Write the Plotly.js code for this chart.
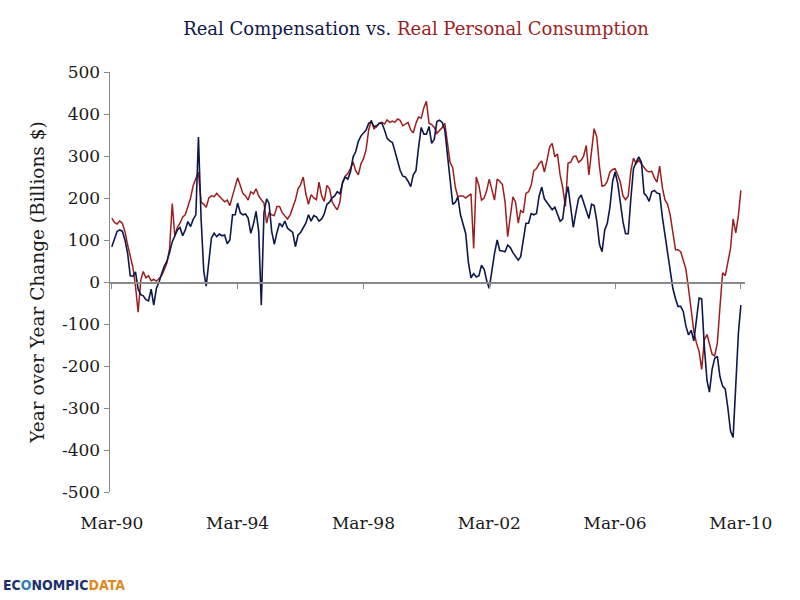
<!DOCTYPE html>
<html>
<head>
<meta charset="utf-8">
<script src="https://cdn.plot.ly/plotly-3.0.1.min.js"></script>
<style>
  html, body { margin: 0; padding: 0; background: #fff; }
  #chart { width: 800px; height: 600px; }
</style>
</head>
<body>
<div id="chart"></div>
<script>
// Year-over-year change, billions of dollars, monthly Mar-1990 .. Mar-2010
const START_YEAR = 1990;
const START_MONTH = 3;

const compensation = [
  84, 105, 120, 124, 121, 100, 68, 15, 14, 24, -17, -30, -33, -42, -45, -17, -55, -15, 0, 20,
  38, 50, 70, 96, 108, 124, 130, 110, 124, 144, 132, 149, 160,
  345, 150, 25, -10, 50, 105, 116, 108, 114, 110, 112, 91, 100, 160, 160, 188, 165, 160, 162, 152,
  116, 138, 168, 120, -55, 165, 198, 187, 120, 90, 118, 140, 132, 145, 128,
  122, 118, 84, 112, 118, 128, 140, 160, 145, 158, 155, 145, 150, 162, 185, 190, 200, 205, 215, 210,
  235, 250, 245, 262, 298, 310, 335, 348, 354, 362, 378, 382, 370, 372, 378,
  378, 362, 342, 336, 332, 312, 285, 266, 252, 250, 240, 227, 255, 265, 320, 368, 352, 352, 370, 330,
  340, 382, 385, 380, 362, 300, 240, 185, 190, 203, 160, 140, 115, 48, 10,
  20, 12, 15, 40, 30, 2, -15, 30, 68, 100, 75, 74, 72, 88, 82, 70, 62, 52, 60, 100,
  140, 140, 163, 160, 163, 205, 226, 198, 188, 179, 172, 178, 160, 145,
  150, 200, 227, 185, 130, 165, 198, 207, 190, 167, 151, 185, 182, 145, 90, 72, 124, 140, 179, 240,
  262, 235, 185, 143, 115, 115, 200, 270, 285, 298, 285, 211, 205, 192,
  215, 218, 212, 210, 155, 115, 70, 32, -15, -40, -58, -58, -70, -105, -126, -115, -140, -90, -38, -40,
  -155, -235, -262, -208, -182, -177, -225, -248, -255, -300, -355, -370, -230, -120, -55
];

const consumption = [
  152, 142, 138, 145, 140, 120, 88, 60, 35, -10, -72, 5, 25, 10, 15, 3, 6, 2, 8, 15,
  30, 45, 80, 187, 110, 130, 140, 155, 160, 178, 200, 230, 248,
  262, 190, 185, 178, 200, 205, 203, 211, 205, 198, 191, 195, 182, 205, 228, 248, 230, 211, 205, 195,
  215, 210, 222, 205, 196, 188, 140, 165, 160, 158, 180, 180, 165, 158, 150,
  160, 180, 195, 222, 232, 250, 210, 185, 208, 200, 196, 238, 205, 192, 230, 222, 192, 180, 172, 190,
  238, 252, 258, 270, 286, 265, 255, 282, 293, 315, 362, 385, 365, 370, 378,
  380, 376, 386, 380, 383, 380, 388, 385, 372, 375, 380, 362, 355, 378, 393, 390, 415, 430, 378, 375,
  368, 354, 360, 368, 378, 335, 285, 272, 225, 203, 205, 205, 200, 205, 210,
  80, 250, 230, 195, 200, 219, 245, 219, 195, 245, 240, 232, 190, 108, 163, 203, 190, 140, 170, 165,
  211, 215, 230, 265, 270, 282, 288, 262, 290, 322, 330, 298, 305, 255,
  225, 180, 283, 285, 298, 300, 285, 290, 300, 325, 255, 320, 365, 345, 275, 228, 230, 240, 262, 268,
  270, 255, 238, 205, 196, 205, 265, 295, 282, 290, 282, 272, 265, 262,
  264, 248, 238, 276, 225, 196, 185, 160, 113, 77, 77, 72, 52, 30, -15, -68, -118, -145, -165, -208,
  -137, -125, -148, -172, -176, -145, -60, 22, 15, 48, 80, 150, 117, 160, 218
];

const xTickVals = ["1990-03-01", "1994-03-01", "1998-03-01", "2002-03-01", "2006-03-01", "2010-03-01"];
const xTickText = ["Mar-90", "Mar-94", "Mar-98", "Mar-02", "Mar-06", "Mar-10"];
const yTickVals = [500, 400, 300, 200, 100, 0, -100, -200, -300, -400, -500];

const NAVY = "#0f184a";
const RED = "#9c1f1f";
const AXIS = "#8a8a8a";
const SERIF = "'DejaVu Serif', 'Liberation Serif', serif";

// month stamps for each observation
const months = compensation.map((_, i) => {
  const t = START_MONTH - 1 + i;
  const y = START_YEAR + Math.floor(t / 12);
  const m = (t % 12) + 1;
  return `${y}-${String(m).padStart(2, "0")}-01`;
});

const xRange = ["1990-02-08", "2010-04-18"];

const traces = [
  // invisible carrier so the zero-crossing axis (xaxis2) gets drawn
  {
    x: months, y: compensation, type: "scatter", mode: "lines",
    xaxis: "x2", line: { color: "rgba(0,0,0,0)", width: 0 },
    hoverinfo: "skip", showlegend: false,
  },
  {
    x: months, y: consumption, type: "scatter", mode: "lines",
    name: "Real Personal Consumption",
    line: { color: RED, width: 1.5 },
  },
  {
    x: months, y: compensation, type: "scatter", mode: "lines",
    name: "Real Compensation",
    line: { color: NAVY, width: 1.6 },
  },
];

const layout = {
  width: 800,
  height: 600,
  margin: { l: 110, r: 55, t: 72, b: 108 },
  paper_bgcolor: "#fff",
  plot_bgcolor: "#fff",
  showlegend: false,
  font: { family: SERIF, size: 16, color: "#1a1a1a" },
  title: {
    text: `<span style="color:${NAVY}">Real Compensation vs. </span><span style="color:${RED}">Real Personal Consumption</span>`,
    font: { family: SERIF, size: 18 },
    x: 0.52, xref: "container", xanchor: "center",
    y: 0.953, yref: "container", yanchor: "middle",
  },
  // labels sit under the plot, the axis line itself runs along zero (xaxis2)
  xaxis: {
    type: "date", range: xRange,
    tickmode: "array", tickvals: xTickVals, ticktext: xTickText,
    ticks: "outside", ticklen: 16, tickcolor: "rgba(0,0,0,0)",
    showline: false, showgrid: false, zeroline: false,
    tickfont: { family: SERIF, size: 17, color: "#1a1a1a" },
  },
  xaxis2: {
    type: "date", range: xRange, overlaying: "x",
    anchor: "free", position: 0.5, side: "bottom",
    tickmode: "array", tickvals: xTickVals, showticklabels: false,
    ticks: "outside", ticklen: 5, tickcolor: AXIS, tickwidth: 1,
    showline: true, linecolor: AXIS, linewidth: 1.5,
    showgrid: false, zeroline: false,
  },
  yaxis: {
    range: [-500, 500],
    tickmode: "array", tickvals: yTickVals, ticktext: yTickVals.map(String),
    ticks: "outside", ticklen: 5, tickcolor: AXIS,
    showline: true, linecolor: AXIS, linewidth: 1.5,
    showgrid: false, zeroline: false,
    tickfont: { family: SERIF, size: 17, color: "#1a1a1a" },
    title: { text: "Year over Year Change (Billions $)", font: { family: SERIF, size: 18.5, color: "#1a1a1a" }, standoff: 12 },
  },
  annotations: [
    {
      xref: "paper", yref: "paper", x: -0.172, y: -0.222,
      xanchor: "left", yanchor: "middle", showarrow: false,
      text: `<b><span style="color:#1c2f6e">EC</span><span style="color:#2f7fb8">O</span><span style="color:#1c2f6e">NOMPIC</span><span style="color:#e08a1e">DATA</span></b>`,
      font: { family: "'Liberation Sans Narrow', 'DejaVu Sans Condensed', 'Liberation Sans', sans-serif", size: 14 },
    },
  ],
};

Plotly.newPlot("chart", traces, layout, { staticPlot: true, displayModeBar: false });
</script>
</body>
</html>
